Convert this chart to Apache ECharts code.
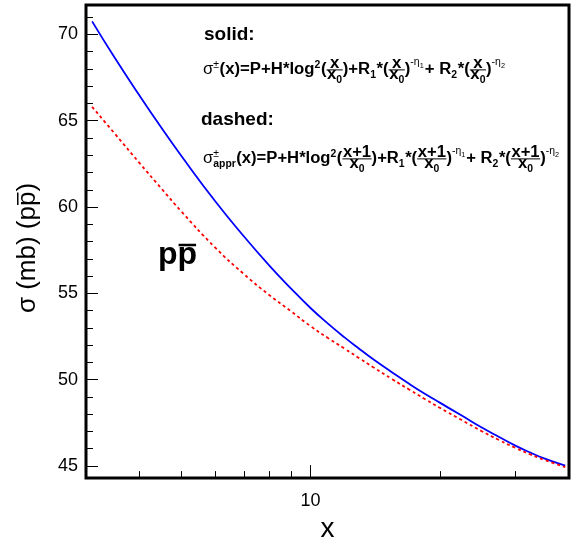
<!DOCTYPE html>
<html><head><meta charset="utf-8">
<script src="https://cdn.jsdelivr.net/npm/echarts@6/dist/echarts.min.js"></script>
<style>html,body{margin:0;padding:0;background:#fff}#c{width:578px;height:548px}</style>
</head><body><div id="c"></div>
<script>
// ---- data ----
const xSolid  = [3.1, 3.5, 4, 4.5, 5, 6, 7, 8, 9, 10, 11, 12, 13, 14, 15.5, 17, 18.5, 20, 22.5, 25, 27.5, 30, 32.5, 35, 39.2];
const ySolid  = [70.75, 68.64, 66.44, 64.57, 62.97, 60.33, 58.29, 56.64, 55.29, 54.15, 53.23, 52.45, 51.78, 51.18, 50.42, 49.75, 49.17, 48.67, 47.92, 47.24, 46.68, 46.18, 45.78, 45.44, 45.02];
const xDashed = [3.1, 3.5, 4, 4.5, 5, 6, 7, 8, 9, 10, 11, 12, 13, 14, 15.5, 17, 18.5, 20, 22.5, 25, 27.5, 30, 32.5, 35, 39.2];
const yDashed = [65.8, 64.25, 62.54, 61.06, 59.75, 57.65, 56.11, 54.92, 53.97, 53.1, 52.4, 51.8, 51.24, 50.72, 50.03, 49.42, 48.87, 48.37, 47.66, 47.03, 46.5, 46.05, 45.67, 45.36, 44.94];
const xMajorTicks = [10];
const xMinorTicks = [4, 5, 6, 7, 8, 9, 20, 30];
const yMajorTicks = [45, 50, 55, 60, 65, 70];
const yMinorTicks = [45,46,47,48,49,50,51,52,53,54,55,56,57,58,59,60,61,62,63,64,65,66,67,68,69,70,71];
const xRange = [3, 40];
const yRange = [44.3, 71.7];

const FONT = '"Liberation Sans", Arial, Helvetica, sans-serif';
const mctx = document.createElement('canvas').getContext('2d');
function tw(s, size, weight) { mctx.font = (weight || 'bold') + ' ' + size + 'px ' + FONT; return mctx.measureText(s).width; }
function txt(s, x, base, size, weight, extra) {
  return Object.assign({ type: 'text', x: x, y: base - 0.3465 * size, z: 100,
    style: { text: s, font: (weight || 'bold') + ' ' + size + 'px ' + FONT, fill: '#000', align: 'left', verticalAlign: 'middle' } }, extra || {});
}
function formula(tokens, base, M) {
  const els = []; let x = 0;
  const S = Math.round(M * 0.62), T = Math.round(M * 0.45);
  for (const tk of tokens) {
    const w = tk.w || 'bold';
    if (tk.m !== undefined) { els.push(txt(tk.m, x, base, M, w)); x += tw(tk.m, M, w); }
    else if (tk.sup !== undefined) { els.push(txt(tk.sup, x, base - M * 0.42, S, w)); x += tw(tk.sup, S, w) + 0.5; }
    else if (tk.sub !== undefined) { els.push(txt(tk.sub, x, base + M * 0.22, S, w)); x += tw(tk.sub, S, w) + 0.5; }
    else if (tk.supsub !== undefined) {
      els.push(txt(tk.supsub[0], x, base - M * 0.42, S, 'normal'));
      els.push(txt(tk.supsub[1], x, base + M * 0.22, S, 'bold'));
      x += Math.max(tw(tk.supsub[0], S, 'normal'), tw(tk.supsub[1], S, 'bold')) + 0.5;
    }
    else if (tk.exp !== undefined) {
      els.push(txt('-\u03b7', x, base - M * 0.55, S, 'normal'));
      const w1 = tw('-\u03b7', S, 'normal');
      els.push(txt(tk.exp, x + w1, base - M * 0.42, T, 'normal'));
      x += w1 + tw(tk.exp, T, 'normal') + 1;
    }
    else if (tk.frac !== undefined) {
      const wn = tw(tk.frac, M), wd = tw('x', M) + tw('0', S);
      const W = Math.max(wn, wd) + 1;
      const bar = base - M * 0.32;
      els.push(txt(tk.frac, x + (W - wn) / 2, bar - 1, M, 'bold'));
      els.push({ type: 'line', z: 100, shape: { x1: x, y1: bar, x2: x + W, y2: bar }, style: { stroke: '#000', lineWidth: 1 } });
      const dx = x + (W - wd) / 2, db = bar + 2 + M * 0.53;
      els.push(txt('x', dx, db, M, 'bold'));
      els.push(txt('0', dx + tw('x', M), db + S * 0.35, S, 'bold'));
      x += W;
    }
  }
  return { els: els, width: x };
}
function placeFormula(tokens, x0, base, M, targetW) {
  const f = formula(tokens, base, M);
  return { type: 'group', x: x0, y: 0, scaleX: targetW / f.width, children: f.els };
}
const f1 = [{ m: '\u03c3', w: 'normal' }, { sup: '\u00b1', w: 'normal' }, { m: '(x)=P+H*log' }, { sup: '2' }, { m: '(' }, { frac: 'x' },
  { m: ')+R' }, { sub: '1' }, { m: '*(' }, { frac: 'x' }, { m: ')' }, { exp: '1' }, { m: '+ R' }, { sub: '2' }, { m: '*(' }, { frac: 'x' }, { m: ')' }, { exp: '2' }];
const f2 = [{ m: '\u03c3', w: 'normal' }, { supsub: ['\u00b1', 'appr'] }, { m: '(x)=P+H*log' }, { sup: '2' }, { m: '(' }, { frac: 'x+1' },
  { m: ')+R' }, { sub: '1' }, { m: '*(' }, { frac: 'x+1' }, { m: ')' }, { exp: '1' }, { m: '+ R' }, { sub: '2' }, { m: '*(' }, { frac: 'x+1' }, { m: ')' }, { exp: '2' }];

// y-axis title (rotated) with overline on the second p
const yTitle = '\u03c3 (mb) (pp)';
const YT = 26, ytx = 28, yty = 248;
const ytW = tw(yTitle, YT, 'normal');
const pStart = tw('\u03c3 (mb) (p', YT, 'normal'), pEnd = tw('\u03c3 (mb) (pp', YT, 'normal');
const olX = ytx + 0.3465 * YT - 0.74 * YT;
const ol1 = yty + ytW / 2 - pStart - 1, ol2 = yty + ytW / 2 - pEnd + 1;

// pp-bar label
const PP = 32, ppx = 158, ppBase = 266;
const pW = tw('p', PP, 'bold');

const graphic = [
  txt('solid:', 204, 41, 19, 'bold'),
  placeFormula(f1, 203, 75, 16, 303),
  txt('dashed:', 201, 126, 19, 'bold'),
  placeFormula(f2, 203, 164, 16, 357),
  txt('pp', ppx, ppBase, PP, 'bold'),
  { type: 'line', z: 100, shape: { x1: ppx + pW + 1, y1: 245, x2: ppx + 2 * pW - 1, y2: 245 }, style: { stroke: '#000', lineWidth: 2.5 } },
  { type: 'text', x: ytx, y: yty, rotation: Math.PI / 2, z: 100,
    style: { text: yTitle, font: 'normal ' + YT + 'px ' + FONT, fill: '#000', align: 'center', verticalAlign: 'middle' } },
  { type: 'line', z: 100, shape: { x1: olX, y1: ol1, x2: olX, y2: ol2 }, style: { stroke: '#000', lineWidth: 1.5 } }
];

function zip(a, b) { return a.map((v, i) => [v, b[i]]); }
const tickStyle = { color: '#000', width: 1 };
const chart = echarts.init(document.getElementById('c'));
chart.setOption({
  animation: false,
  grid: { left: 86, right: 9, top: 5, bottom: 58, show: true, borderColor: '#000', borderWidth: 3, backgroundColor: 'transparent' },
  xAxis: [
    { type: 'log', logBase: 10, min: xRange[0], max: xRange[1], position: 'bottom',
      axisLine: { show: false }, splitLine: { show: false }, minorTick: { show: false },
      axisTick: { inside: true, length: 13, customValues: xMajorTicks, lineStyle: tickStyle },
      axisLabel: { customValues: xMajorTicks, fontSize: 18, color: '#000', margin: 14, fontFamily: FONT },
      name: 'x', nameLocation: 'middle', nameGap: 46,
      nameTextStyle: { fontSize: 28, color: '#000', fontFamily: FONT, verticalAlign: 'middle' } },
    { type: 'log', logBase: 10, min: xRange[0], max: xRange[1], position: 'bottom',
      axisLine: { show: false }, splitLine: { show: false }, minorTick: { show: false },
      axisTick: { inside: true, length: 7, customValues: xMinorTicks, lineStyle: tickStyle },
      axisLabel: { show: false } }
  ],
  yAxis: [
    { type: 'value', min: yRange[0], max: yRange[1], position: 'left',
      axisLine: { show: false }, splitLine: { show: false },
      axisTick: { inside: true, length: 12, customValues: yMajorTicks, lineStyle: tickStyle },
      axisLabel: { customValues: yMajorTicks, fontSize: 18, color: '#000', margin: 8, fontFamily: FONT } },
    { type: 'value', min: yRange[0], max: yRange[1], position: 'left',
      axisLine: { show: false }, splitLine: { show: false },
      axisTick: { inside: true, length: 7, customValues: yMinorTicks, lineStyle: tickStyle },
      axisLabel: { show: false } }
  ],
  series: [
    { type: 'line', xAxisIndex: 0, yAxisIndex: 0, data: zip(xSolid, ySolid), showSymbol: false,
      smooth: 0.5, lineStyle: { color: '#0000ff', width: 1.8 } },
    { type: 'line', xAxisIndex: 0, yAxisIndex: 0, data: zip(xDashed, yDashed), showSymbol: false,
      smooth: 0.5, lineStyle: { color: '#ff0000', width: 1.8, type: [3, 3] } }
  ],
  graphic: graphic
});
</script>
</body></html>
